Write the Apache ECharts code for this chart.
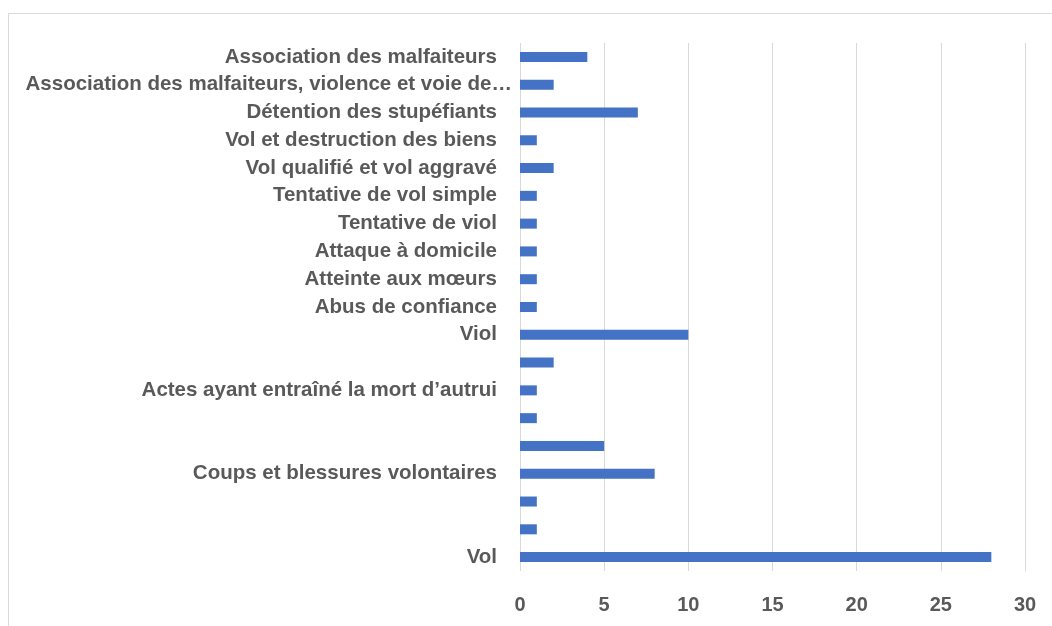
<!DOCTYPE html>
<html>
<head>
<meta charset="utf-8">
<script src="https://cdn.jsdelivr.net/npm/echarts@6/dist/echarts.min.js"></script>
<style>
    html, body { margin: 0; padding: 0; background: #fff; }
    #chart { width: 1052px; height: 626px; }
</style>
</head>
<body>
<div id="chart"></div>
<script>
// catégories, de haut en bas
var categories = [
    "Association des malfaiteurs",
    "Association des malfaiteurs, violence et voie de\u2026",
    "Détention des stupéfiants",
    "Vol et destruction des biens",
    "Vol qualifié et vol aggravé",
    "Tentative de vol simple",
    "Tentative de viol",
    "Attaque à domicile",
    "Atteinte aux mœurs",
    "Abus de confiance",
    "Viol",
    "",
    "Actes ayant entraîné la mort d\u2019autrui",
    " ",
    "  ",
    "Coups et blessures volontaires",
    "   ",
    "    ",
    "Vol"
];
var values = [4, 2, 7, 1, 2, 1, 1, 1, 1, 1, 10, 2, 1, 1, 5, 8, 1, 1, 28];
var xTicks = [0, 5, 10, 15, 20, 25, 30];

var labelFont = "'Liberation Sans', sans-serif";
var labelStyle = {
    color: '#595959',
    fontSize: 20.5,
    fontWeight: 'bold',
    fontFamily: labelFont
};

var myChart = echarts.init(document.getElementById('chart'));

var option = {
    animation: false,
    backgroundColor: '#ffffff',
    graphic: [
        {
            type: 'rect',
            shape: { x: 8.5, y: 13.5, width: 1200, height: 800 },
            style: { fill: 'none', stroke: '#d9d9d9', lineWidth: 1 },
            silent: true
        }
    ],
    grid: {
        left: 520,
        right: 27,
        top: 43,
        bottom: 55
    },
    xAxis: {
        type: 'value',
        min: xTicks[0],
        max: xTicks[xTicks.length - 1],
        interval: 5,
        axisLine: { show: false },
        axisTick: { show: false },
        splitLine: { lineStyle: { color: '#d9d9d9', width: 1 } },
        axisLabel: {
            margin: 24,
            color: '#595959',
            fontSize: 20,
            fontWeight: 'bold',
            fontFamily: labelFont
        }
    },
    yAxis: {
        type: 'category',
        inverse: true,
        data: categories,
        axisLine: { show: false },
        axisTick: { show: false },
        axisLabel: {
            margin: 8,
            color: '#595959',
            fontSize: 20.5,
            fontWeight: 'bold',
            fontFamily: labelFont,
            // le libellé tronqué dépasse un peu vers la droite, comme dans Excel
            formatter: function (v) {
                if (v.indexOf('\u2026') >= 0) return '{t|' + v + '}';
                return '{n|' + v + '}';
            },
            rich: {
                n: Object.assign({ padding: [0, 15, 0, 0] }, labelStyle),
                t: Object.assign({ padding: [0, 0, 0, 0] }, labelStyle)
            }
        }
    },
    series: [
        {
            type: 'bar',
            data: values,
            barWidth: 10,
            itemStyle: { color: '#4472c4' }
        }
    ]
};

myChart.setOption(option);
</script>
</body>
</html>
